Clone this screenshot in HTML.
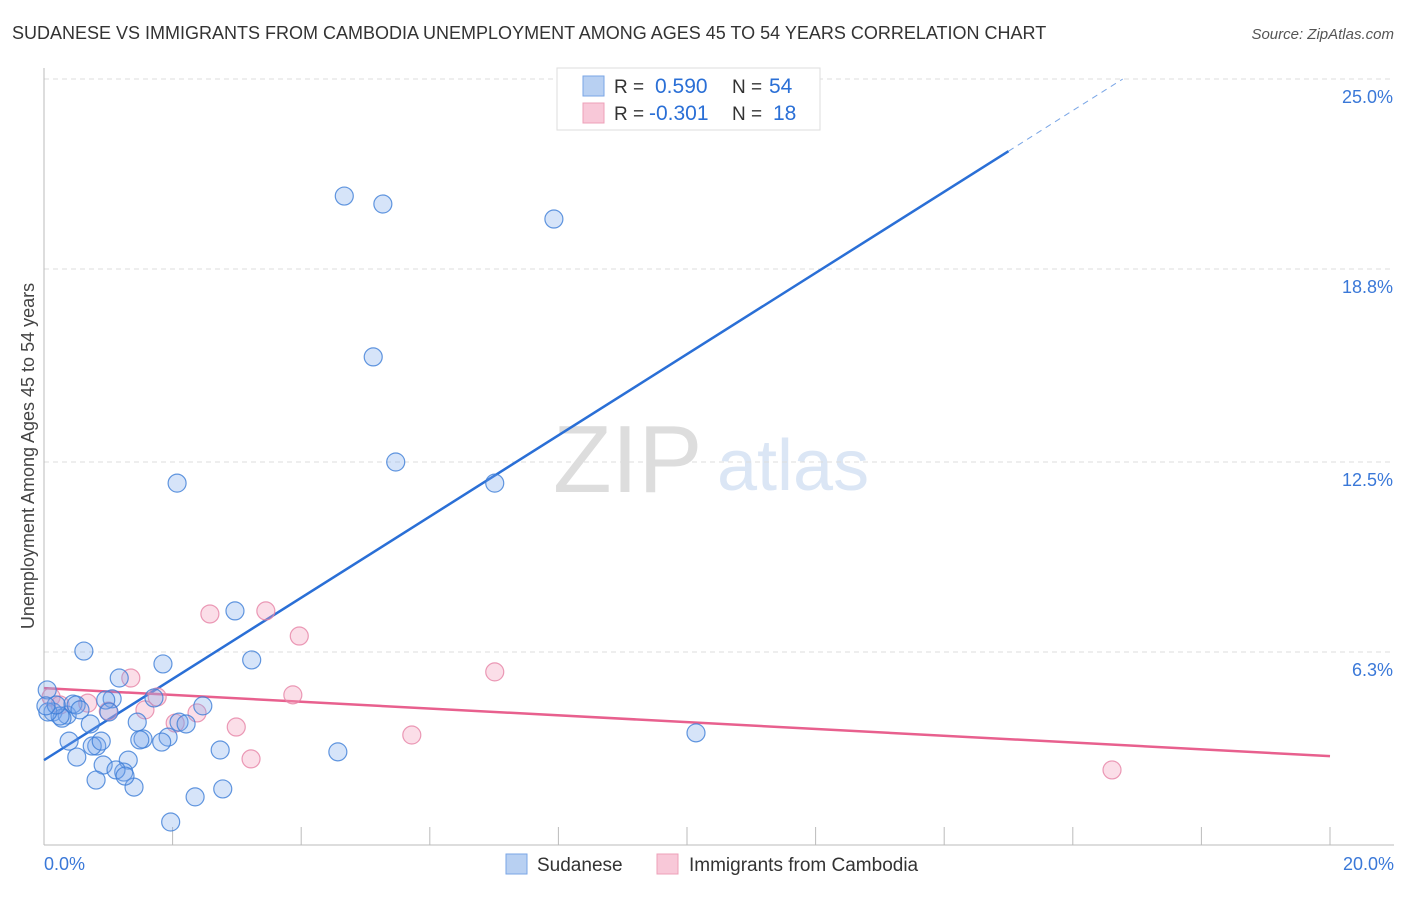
<!DOCTYPE html>
<html><head><meta charset="utf-8"><style>
body{margin:0;background:#fff;font-family:"Liberation Sans",sans-serif;}
svg text{font-family:"Liberation Sans",sans-serif;}
</style></head><body>
<svg id="chart" width="1406" height="892" xmlns="http://www.w3.org/2000/svg">
<text x="12" y="39" font-size="18" fill="#333">SUDANESE VS IMMIGRANTS FROM CAMBODIA UNEMPLOYMENT AMONG AGES 45 TO 54 YEARS CORRELATION CHART</text>
<text x="1394" y="39" font-size="15" fill="#555" text-anchor="end" font-style="italic">Source: ZipAtlas.com</text>
<text x="553" y="492" font-size="96" fill="#ddd" font-family="Liberation Serif,serif">ZIP</text>
<text x="717" y="490" font-size="72" fill="#dbe6f5">atlas</text>
<g id="grid"></g>
<g id="axes"></g>
<g id="lines"></g>
<g id="points"></g>
<text transform="translate(34,456) rotate(-90)" font-size="18" fill="#444" text-anchor="middle">Unemployment Among Ages 45 to 54 years</text>
<g>
<rect x="557" y="68" width="263" height="62" fill="#fff" stroke="#ddd"/>
<rect x="583" y="76" width="21" height="20" fill="#b8d0f2" stroke="#7aa6e6"/>
<rect x="583" y="103" width="21" height="20" fill="#f8c8d8" stroke="#eea0b8"/>
<text x="614" y="93" font-size="19" fill="#333">R = </text><text x="655" y="93" font-size="21" fill="#2a6fd6">0.590</text>
<text x="732" y="93" font-size="19" fill="#333">N = </text><text x="769" y="93" font-size="21" fill="#2a6fd6">54</text>
<text x="614" y="120" font-size="19" fill="#333">R = </text><text x="649" y="120" font-size="21" fill="#2a6fd6">-0.301</text>
<text x="732" y="120" font-size="19" fill="#333">N = </text><text x="773" y="120" font-size="21" fill="#2a6fd6">18</text>
</g>
<g>
<rect x="506" y="854" width="21" height="20" fill="#b8d0f2" stroke="#7aa6e6"/>
<text x="537" y="871" font-size="19" fill="#333">Sudanese</text>
<rect x="657" y="854" width="21" height="20" fill="#f8c8d8" stroke="#eea0b8"/>
<text x="689" y="871" font-size="19" fill="#333">Immigrants from Cambodia</text>
</g>
</svg>
<script>
const blueX=[4.67,5.27,7.93,5.12,5.47,2.07,7.01,2.97,0.62,3.23,1.85,1.17,0.05,1.06,0.96,1.71,2.47,0.14,0.36,0.28,0.45,1.01,0.72,1.45,2.10,2.21,1.93,1.54,0.39,0.82,0.75,1.83,1.31,0.51,0.92,1.24,1.12,2.74,4.57,10.14,0.81,1.40,2.78,2.35,1.97,0.25,0.06,0.19,0.03,0.50,0.56,1.49,0.89,1.26];
const blueY=[21.18,20.92,20.43,15.93,12.50,11.81,11.81,7.64,6.33,6.04,5.91,5.45,5.06,4.77,4.73,4.80,4.54,4.34,4.24,4.14,4.60,4.34,3.95,4.01,4.01,3.95,3.52,3.46,3.39,3.23,3.23,3.36,2.77,2.87,2.61,2.38,2.45,3.10,3.04,3.66,2.12,1.89,1.83,1.57,0.75,4.21,4.34,4.57,4.54,4.57,4.41,3.43,3.39,2.25];
const pinkX=[2.58,3.45,3.97,7.01,3.87,1.35,1.76,2.04,2.38,2.99,3.22,5.72,16.61,0.68,0.11,0.25,1.00,1.57];
const pinkY=[7.54,7.64,6.82,5.65,4.90,5.45,4.83,3.98,4.31,3.85,2.81,3.59,2.45,4.63,4.83,4.57,4.37,4.41];
const blueTrend=[2.77,1.325];
const pinkTrend=[5.12,-0.111];
const yTicks=[6.3,12.5,18.8,25.0];
const yTickLabels=["6.3%","12.5%","18.8%","25.0%"];
const xTickVals=[0,2,4,6,8,10,12,14,16,18,20];
const xEndLabels=["0.0%","20.0%"];

const NS="http://www.w3.org/2000/svg";
const sx=v=>44+v*(1286/20);
const sy=v=>845-v*30.64;
function mk(tag,attrs,parent){const e=document.createElementNS(NS,tag);for(const k in attrs)e.setAttribute(k,attrs[k]);parent.appendChild(e);return e;}
const grid=document.getElementById('grid'),axes=document.getElementById('axes'),lines=document.getElementById('lines'),pts=document.getElementById('points');
yTicks.forEach((t,i)=>{
 const l=mk('line',{x1:44,x2:1394,y1:sy(t),y2:sy(t),stroke:'#ddd','stroke-dasharray':'5,4'},grid);
 
 
 const tx=mk('text',{x:1393,y:sy(t)+24,'font-size':18,fill:'#3a78d8','text-anchor':'end'},axes);
 tx.textContent=yTickLabels[i];
 
 
});
const ya=mk('line',{x1:44,x2:44,y1:68,y2:845,stroke:'#bbb'},axes);


const xa=mk('line',{x1:44,x2:1394,y1:845,y2:845,stroke:'#bbb'},axes);


xTickVals.forEach(v=>{
 const t=mk('line',{x1:sx(v),x2:sx(v),y1:827,y2:845,stroke:'#bbb'},axes);
 
 
});
const xl0=mk('text',{x:44,y:870,'font-size':18,fill:'#3a78d8'},axes);xl0.textContent=xEndLabels[0];


const xl1=mk('text',{x:1394,y:870,'font-size':18,fill:'#3a78d8','text-anchor':'end'},axes);xl1.textContent=xEndLabels[1];



function drawPts(X,Y,fill,stroke,name){X.forEach((x,i)=>{
 const c=mk('circle',{cx:sx(x),cy:sy(Y[i]),r:9,fill:fill,stroke:stroke,'stroke-width':1.2},pts);
 
 
});}
drawPts(pinkX,pinkY,'rgba(244,160,190,0.35)','rgba(230,130,165,0.8)','cambodia-point');
drawPts(blueX,blueY,'rgba(120,165,235,0.3)','rgba(60,125,215,0.8)','sudanese-point');

const bEnd=15.0, bDash=(25-blueTrend[0])/blueTrend[1];
const b1=mk('line',{x1:sx(0),y1:sy(blueTrend[0]),x2:sx(bEnd),y2:sy(blueTrend[0]+blueTrend[1]*bEnd),stroke:'#2a6fd6','stroke-width':2.5},lines);


const b2=mk('line',{x1:sx(bEnd),y1:sy(blueTrend[0]+blueTrend[1]*bEnd),x2:sx(bDash),y2:sy(25),stroke:'#7aa6e6','stroke-width':1,'stroke-dasharray':'6,5'},lines);


const p1=mk('line',{x1:sx(0),y1:sy(pinkTrend[0]),x2:sx(20),y2:sy(pinkTrend[0]+pinkTrend[1]*20),stroke:'#e8608e','stroke-width':2.5},lines);


</script>
</body></html>
